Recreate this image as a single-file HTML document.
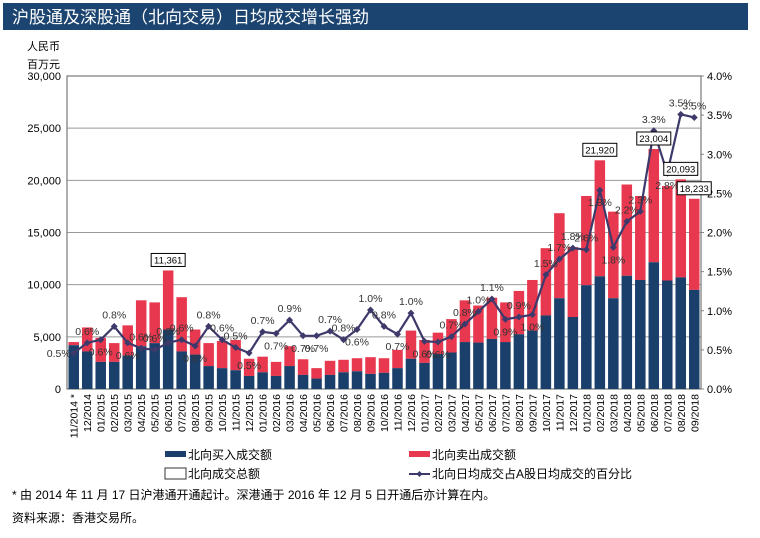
<!DOCTYPE html>
<html><head><meta charset="utf-8"><style>
body{margin:0;background:#fff;width:760px;height:533px;overflow:hidden;font-family:"Liberation Sans","Noto Sans CJK SC",sans-serif;}
</style></head><body>
<svg id="c" width="760" height="533" xmlns="http://www.w3.org/2000/svg" style="font-family:'Liberation Sans','Noto Sans CJK SC',sans-serif">
<rect x="3" y="3" width="745" height="27" fill="#1b4470"/>
<text x="12" y="23" fill="#fff" font-size="17">沪股通及深股通（北向交易）日均成交增长强劲</text>
<text x="27" y="50" font-size="11">人民币</text>
<text x="27" y="68" font-size="11">百万元</text>
<g id="plot"></g>
<g font-size="12">
<rect x="165" y="451" width="21" height="6" fill="#1b3f6b"/><text x="188" y="459">北向买入成交额</text>
<rect x="409" y="451" width="21" height="6" fill="#e8384f"/><text x="432" y="459">北向卖出成交额</text>
<rect x="165" y="468" width="21" height="11" fill="#fff" stroke="#333"/><text x="188" y="478">北向成交总额</text>
<line x1="409" y1="474" x2="430" y2="474" stroke="#3d3a6b" stroke-width="2"/><path d="M419.5 471 L422.5 474 L419.5 477 L416.5 474Z" fill="#3d3a6b"/><text x="432" y="478">北向日均成交占A股日均成交的百分比</text>
</g>
<text x="12" y="499" font-size="12">*  由 2014 年 11 月 17 日沪港通开通起计。深港通于 2016 年 12 月 5 日开通后亦计算在内。</text>
<text x="12" y="522" font-size="12">资料来源：香港交易所。</text>
</svg>
<script>
const months=["11/2014 *","12/2014","01/2015","02/2015","03/2015","04/2015","05/2015","06/2015","07/2015","08/2015","09/2015","10/2015","11/2015","12/2015","01/2016","02/2016","03/2016","04/2016","05/2016","06/2016","07/2016","08/2016","09/2016","10/2016","11/2016","12/2016","01/2017","02/2017","03/2017","04/2017","05/2017","06/2017","07/2017","08/2017","09/2017","10/2017","11/2017","12/2017","01/2018","02/2018","03/2018","04/2018","05/2018","06/2018","07/2018","08/2018","09/2018"];
const totals=[4500,5900,4900,4400,6100,8500,8300,11361,8800,5700,4400,4600,4700,2900,3100,2600,4100,2850,2000,2700,2800,2950,3050,2950,3750,5600,4700,5400,6700,8500,8000,8750,8300,9400,10450,13500,16850,13600,18500,21920,17000,19600,18500,23004,19450,20093,18233];
const buys=[4200,3600,2600,2600,3200,4100,4400,5700,3600,3300,2200,2000,1800,1250,1600,1250,2200,1350,1000,1350,1600,1700,1450,1550,2000,2900,2500,3350,3500,4500,4450,4800,4500,5250,5600,7050,8700,6900,9950,10800,8700,10850,10450,12150,10400,10700,9500];
const pct=[0.46,0.59,0.63,0.80,0.59,0.52,0.50,0.59,0.63,0.55,0.80,0.63,0.53,0.46,0.73,0.71,0.88,0.68,0.68,0.74,0.63,0.76,1.01,0.80,0.70,0.97,0.61,0.60,0.67,0.83,0.99,1.15,0.89,0.92,0.95,1.46,1.66,1.80,1.78,2.54,1.81,2.14,2.27,3.30,2.76,3.51,3.47];
const pctLabels=["0.5%","0.6%","0.6%","0.8%","0.6%","0.6%","0.6%","0.6%","0.6%","0.6%","0.8%","0.6%","0.5%","0.5%","0.7%","0.7%","0.9%","0.7%","0.7%","0.7%","0.8%","0.6%","1.0%","0.8%","0.7%","1.0%","0.6%","0.6%","0.7%","0.8%","1.0%","1.1%","0.9%","0.9%","1.0%","1.5%","1.7%","1.8%","2.6%","1.8%","1.8%","2.2%","2.3%","3.3%","2.8%","3.5%","3.5%"];
const labelSide=["l","a","b","a","b","a","a","a","a","b","a","a","a","b","a","b","a","b","b","a","a","b","a","a","b","a","b","b","a","a","a","a","b","a","b","a","a","a","a","b","b","a","a","a","b","a","a"];
const totalLabelIdx=[7,39,43,45,46];
const leftTicks=[0,5000,10000,15000,20000,25000,30000];
const rightTicks=[0,0.5,1,1.5,2,2.5,3,3.5,4];
const X0=67,X1=701,Y0=389,Y1=76;
const step=(X1-X0)/months.length;
const xs=i=>X0+step*(i+0.5);
const yL=v=>Y0-(v/30000)*(Y0-Y1);
const yR=v=>Y0-(v/4)*(Y0-Y1);
const NS="http://www.w3.org/2000/svg";
const g=document.getElementById('plot');
function mk(t,a,p){const e=document.createElementNS(NS,t);for(const k in a)e.setAttribute(k,a[k]);(p||g).appendChild(e);return e;}
leftTicks.forEach((v,i)=>{
 if(v>0&&v<30000){const l=mk('line',{x1:X0,x2:X1,y1:yL(v),y2:yL(v),stroke:'#999','stroke-width':1});
 
 }
 const t=mk('text',{x:X0-6,y:yL(v)+4,'text-anchor':'end','font-size':11});t.textContent=v.toLocaleString('en-US');
 
 
});
rightTicks.forEach(v=>{
 const t=mk('text',{x:X1+6,y:yR(v)+4,'font-size':11});t.textContent=v.toFixed(1)+'%';
 
 
 mk('line',{x1:X1,x2:X1+3,y1:yR(v),y2:yR(v),stroke:'#888'});
});
const fr=mk('rect',{x:X0,y:Y1,width:X1-X0,height:Y0-Y1,fill:'none',stroke:'#777','stroke-width':1.2});


const bw=step*0.78;
months.forEach((m,i)=>{
 const x=xs(i)-bw/2;
 const r1=mk('rect',{x:x,y:yL(totals[i]),width:bw,height:yL(buys[i])-yL(totals[i]),fill:'#e8384f'});
 
 
 const r2=mk('rect',{x:x,y:yL(buys[i]),width:bw,height:Y0-yL(buys[i]),fill:'#1b3f6b'});
 
 
 const t=mk('text',{x:0,y:0,'text-anchor':'end','font-size':10.5,transform:`translate(${xs(i)+4},${Y0+5}) rotate(-90)`});t.textContent=m;
 
 
});
const pts=pct.map((v,i)=>xs(i)+','+yR(v)).join(' ');
const pl=mk('polyline',{points:pts,fill:'none',stroke:'#3d3a6b','stroke-width':2.2});


pct.forEach((v,i)=>{
 const x=xs(i),y=yR(v);
 const d=mk('path',{d:`M${x} ${y-3.5}L${x+3.5} ${y}L${x} ${y+3.5}L${x-3.5} ${y}Z`,fill:'#3d3a6b'});
 
 
 const s=labelSide[i];
 const t=mk('text',{x:s==='l'?x-3:x,y:s==='a'?y-8:(s==='l'?y+4:y+16),'text-anchor':s==='l'?'end':'middle','font-size':10.5,fill:'#333'});
 t.textContent=pctLabels[i];
 
 
});
totalLabelIdx.forEach(i=>{
 const x=xs(i),y=yL(totals[i]);
 const txt=totals[i].toLocaleString('en-US');
 const r=mk('rect',{x:x-17,y:y-17,width:34,height:13,fill:'#fff',stroke:'#000','stroke-width':1});
 
 
 const t=mk('text',{x:x,y:y-7,'text-anchor':'middle','font-size':9.5});t.textContent=txt;
 
 
});
</script>
</body></html>
